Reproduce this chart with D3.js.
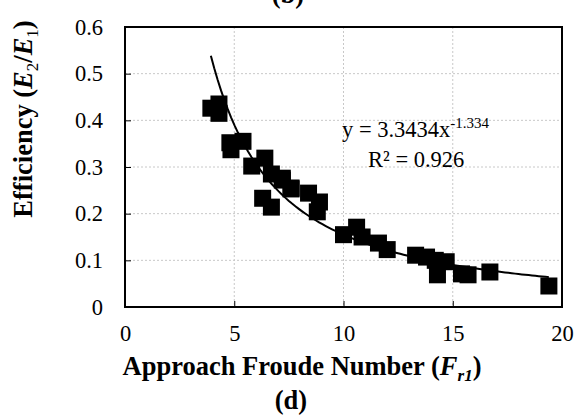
<!DOCTYPE html>
<html>
<head>
<meta charset="utf-8">
<script src="https://cdn.jsdelivr.net/npm/d3@7"></script>
<style>
body { margin: 0; background: #fff; }
text { font-family: "Liberation Serif", "Times New Roman", serif; fill: #000; }
.axisTitle { font-size: 26.5px; font-weight: bold; }
.grid line { stroke: #c8c8c8; stroke-width: 1; stroke-dasharray: 2,2; }
</style>
</head>
<body>
<div id="chart"></div>
<script>
// approach Froude number (x) and efficiency E2/E1 (y)
const froude = [3.93, 4.3, 4.3, 4.8, 4.85, 5.4, 5.8, 6.4, 6.7, 7.2, 7.6, 7.2, 7.6, 8.4, 8.9, 8.8, 6.3, 6.7,
  10.0, 10.6, 10.85, 11.6, 12.0, 13.3, 13.8, 14.2, 14.3, 14.7, 15.4, 15.7, 16.7, 19.4];
const efficiency = [0.426, 0.435, 0.415, 0.352, 0.337, 0.355, 0.302, 0.319, 0.285, 0.272, 0.253, 0.276, 0.255, 0.244, 0.225, 0.204, 0.233, 0.214,
  0.155, 0.171, 0.15, 0.137, 0.123, 0.111, 0.107, 0.100, 0.069, 0.097, 0.071, 0.069, 0.075, 0.045];
const xTicks = [0, 5, 10, 15, 20];
const yTicks = [0, 0.1, 0.2, 0.3, 0.4, 0.5, 0.6];
// power trendline shown on the chart
const fitCoef = 3.3434, fitExp = -1.334;

const margin = {top: 27, right: 19, bottom: 109, left: 125},
  width = 581 - margin.left - margin.right,
  height = 416 - margin.top - margin.bottom;

const data = froude.map((f, i) => ({x: f, y: efficiency[i]}));

const svg = d3.select("#chart")
  .append("svg")
  .attr("width", 581)
  .attr("height", 416);

const g = svg.append("g")
  .attr("transform", "translate(" + margin.left + "," + margin.top + ")");

const xScale = d3.scaleLinear().domain([0, 20]).range([0, width]);
const yScale = d3.scaleLinear().domain([0, 0.6]).range([height, 0]);

// gridlines
g.append("g").attr("class", "grid")
  .selectAll("line")
  .data(xTicks.slice(1, -1))
  .enter().append("line")
  .attr("x1", d => xScale(d)).attr("x2", d => xScale(d))
  .attr("y1", 0).attr("y2", height);

g.append("g").attr("class", "grid")
  .selectAll("line")
  .data(yTicks.slice(1, -1))
  .enter().append("line")
  .attr("x1", 0).attr("x2", width)
  .attr("y1", d => yScale(d)).attr("y2", d => yScale(d));

const xAxis = d3.axisBottom(xScale).tickValues(xTicks).tickSize(-6).tickPadding(18).tickFormat(d3.format("d"));
const yAxis = d3.axisLeft(yScale).tickValues(yTicks).tickSize(-6).tickPadding(22).tickFormat(d => d === 0 ? "0" : d3.format(".1f")(d));

function styleAxis(a) {
  a.select(".domain").remove();
  a.attr("font-family", null).attr("font-size", null);
  a.selectAll(".tick line").attr("stroke", "#000").attr("stroke-width", 1);
  a.selectAll(".tick text")
    .attr("font-family", "'Liberation Serif', 'Times New Roman', serif")
    .attr("font-size", 22.5)
    .attr("fill", "#000");
}

g.append("g")
  .attr("transform", "translate(0," + height + ")")
  .call(xAxis)
  .call(styleAxis);

g.append("g")
  .call(yAxis)
  .call(styleAxis);

// plot frame
g.append("rect")
  .attr("width", width)
  .attr("height", height)
  .attr("fill", "none")
  .attr("stroke", "#000")
  .attr("stroke-width", 2);

// trendline from min to max x
const xMin = d3.min(froude), xMax = d3.max(froude);
const fitPts = d3.range(0, 101).map(i => {
  const x = xMin + (xMax - xMin) * i / 100;
  return {x: x, y: fitCoef * Math.pow(x, fitExp)};
});

// markers
g.selectAll(".pt")
  .data(data)
  .enter().append("rect")
  .attr("class", "pt")
  .attr("x", d => xScale(d.x) - 8.5)
  .attr("y", d => yScale(d.y) - 8.5)
  .attr("width", 17)
  .attr("height", 17)
  .attr("fill", "#000");

g.append("path")
  .datum(fitPts)
  .attr("fill", "none")
  .attr("stroke", "#000")
  .attr("stroke-width", 2)
  .attr("d", d3.line().x(d => xScale(d.x)).y(d => yScale(d.y)));

// equation labels
const eq = svg.append("text")
  .attr("x", 342)
  .attr("y", 137)
  .attr("font-size", 22.5);
eq.append("tspan").text("y = 3.3434x");
eq.append("tspan").attr("dy", -9).attr("font-size", 15).text("-1.334");

svg.append("text")
  .attr("x", 368)
  .attr("y", 167)
  .attr("font-size", 22.5)
  .text("R² = 0.926");

// axis titles
const yt = svg.append("text")
  .attr("class", "axisTitle")
  .attr("transform", "translate(32,119) rotate(-90)")
  .attr("text-anchor", "middle");
yt.append("tspan").text("Efficiency (");
yt.append("tspan").attr("font-style", "italic").text("E");
yt.append("tspan").attr("dy", 6).attr("font-size", 17).attr("font-weight", "normal").text("2");
yt.append("tspan").attr("dy", -6).text("/");
yt.append("tspan").attr("font-style", "italic").text("E");
yt.append("tspan").attr("dy", 6).attr("font-size", 17).attr("font-weight", "normal").text("1");
yt.append("tspan").attr("dy", -6).text(")");

const xt = svg.append("text")
  .attr("class", "axisTitle")
  .attr("x", 302)
  .attr("y", 375)
  .attr("text-anchor", "middle");
xt.append("tspan").text("Approach Froude Number (");
xt.append("tspan").attr("font-style", "italic").text("F");
xt.append("tspan").attr("dy", 6).attr("font-size", 17).attr("font-style", "italic").text("r1");
xt.append("tspan").attr("dy", -6).text(")");

svg.append("text")
  .attr("class", "axisTitle")
  .attr("x", 291)
  .attr("y", 409)
  .attr("text-anchor", "middle")
  .text("(d)");

// panel letter above, partly cut off at the top edge as in the source figure
svg.append("text")
  .attr("class", "axisTitle")
  .attr("x", 288)
  .attr("y", 3)
  .attr("text-anchor", "middle")
  .text("(b)");
</script>
</body>
</html>
